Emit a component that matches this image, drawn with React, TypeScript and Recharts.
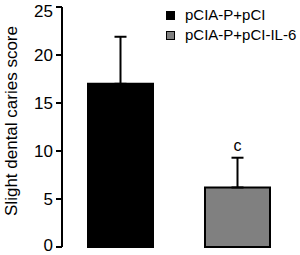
import { BarChart, Bar, XAxis, YAxis, Cell, ErrorBar, LabelList } from 'recharts';

const groups = ['pCIA-P+pCI', 'pCIA-P+pCI-IL-6'];
const scores = [17.0, 6.2];
const errUp = [4.9, 3.1];
const sigLabels = ['', 'c'];
const fills = ['#000000', '#808080'];
const yTicks = [0, 5, 10, 15, 20, 25];

const data = groups.map((g, i) => ({
  name: g,
  score: scores[i],
  err: [0, errUp[i]],
  sig: sigLabels[i],
}));

const font = 'Liberation Sans, Arial, sans-serif';

function SigLabel(props: any) {
  const { x, y, width, height, index } = props;
  const txt = sigLabels[index];
  if (!txt) return null;
  const pxPerUnit = height / scores[index];
  const top = y - errUp[index] * pxPerUnit;
  return (
    <text x={x + width / 2} y={top - 7} textAnchor="middle" fontSize={16} fontFamily={font} fill="#000">
      {txt}
    </text>
  );
}

// keep the end labels inside the picture, like the original figure
function YTick(props: any) {
  const { x, y, payload } = props;
  const yy = Math.min(Math.max(y, 11), 245);
  return (
    <text x={x} y={yy} dy="0.36em" textAnchor="end" fontSize={17} fontFamily={font} fill="#000">
      {payload.value}
    </text>
  );
}

function LegendBox() {
  return (
    <div
      style={{
        position: 'absolute',
        left: 166,
        top: 5,
        fontFamily: font,
        fontSize: 15,
        lineHeight: '20px',
        color: '#000',
      }}
    >
      {groups.map((g, i) => (
        <div key={g} style={{ display: 'flex', alignItems: 'center', height: 20, whiteSpace: 'nowrap' }}>
          <span
            style={{
              display: 'inline-block',
              width: 7,
              height: 7,
              background: fills[i],
              border: '1px solid #000',
              marginRight: 10,
            }}
          />
          {g}
        </div>
      ))}
    </div>
  );
}

export default function App() {
  return (
    <div style={{ position: 'absolute', left: 0, top: 0, width: 300, height: 255, background: '#fff' }}>
      <BarChart width={300} height={255} data={data} margin={{ top: 7, right: 4, left: 0, bottom: 8 }}>
        <XAxis dataKey="name" tick={false} tickLine={false} height={0} axisLine={{ stroke: '#000', strokeWidth: 2 }} />
        <YAxis
          width={62}
          domain={[0, 25]}
          ticks={yTicks}
          interval={0}
          tickSize={6}
          tickMargin={3}
          axisLine={{ stroke: '#000', strokeWidth: 2 }}
          tickLine={{ stroke: '#000', strokeWidth: 2 }}
          tick={<YTick />}
          label={{
            content: () => (
              <text
                transform="translate(11,121) rotate(-90)"
                textAnchor="middle"
                dominantBaseline="central"
                fontSize={17}
                fontFamily={font}
                fill="#000"
              >
                Slight dental caries score
              </text>
            ),
          }}
        />
        <Bar dataKey="score" barSize={65} stroke="#000" strokeWidth={2} isAnimationActive={false}>
          {data.map((d, i) => (
            <Cell key={d.name} fill={fills[i]} />
          ))}
          <ErrorBar dataKey="err" width={6} stroke="#000" strokeWidth={2} direction="y" />
          <LabelList dataKey="sig" content={SigLabel} />
        </Bar>
      </BarChart>
      <LegendBox />
    </div>
  );
}
